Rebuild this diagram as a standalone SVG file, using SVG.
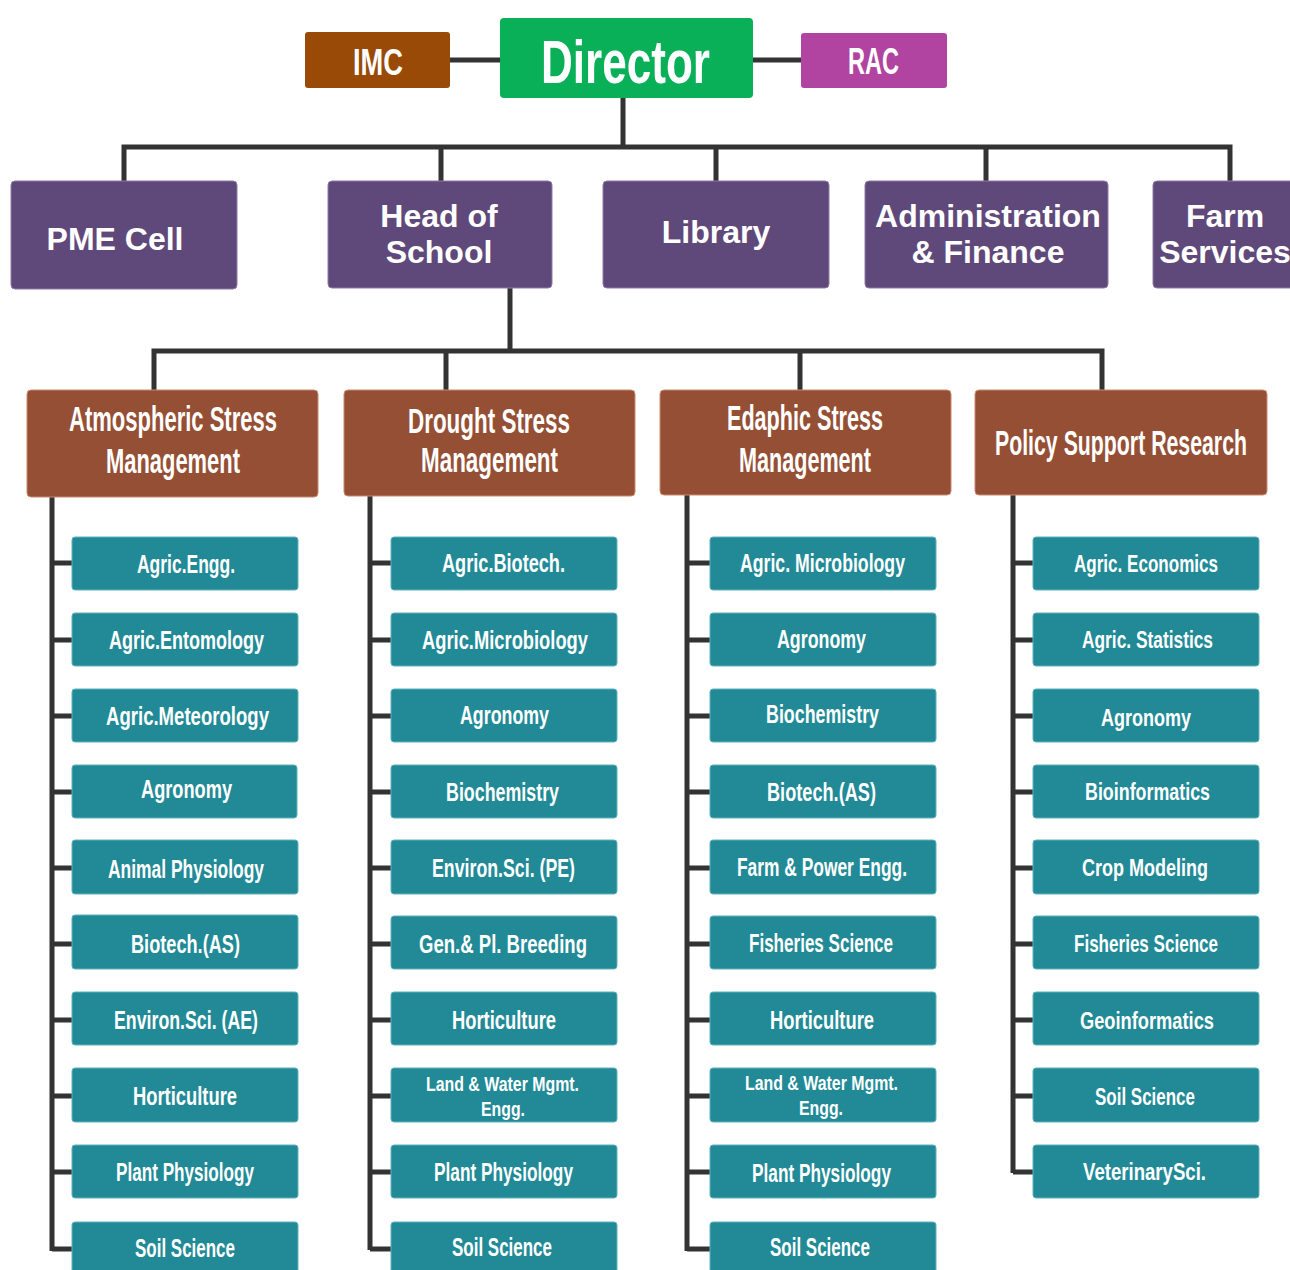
<svg xmlns="http://www.w3.org/2000/svg" width="1290" height="1270" viewBox="0 0 1290 1270">
<style>
text{font-family:"Liberation Sans",Arial,sans-serif;font-weight:bold;fill:#fff;text-anchor:middle}
.leaf rect{fill:#218A96;stroke:#5fb3bc;stroke-width:1}
.leaf text{font-size:26px}
.c4 text{font-size:24px}
.leaf text.sm{font-size:21px}
.dept rect{fill:#954F34;stroke:#c98a70;stroke-width:1}
.dept text{font-size:35px}
.unit rect{fill:#5F497A;stroke:#8f7aa8;stroke-width:1}
.unit text{font-size:32px}
.c{stroke:#333;stroke-width:5;fill:none}
</style>
<g id="connectors" class="c">
<path d="M450 60H500M753 60H801"/>
<path d="M623 98V147M124 181V147H1230V181M441 147V181M716 147V181M986 147V181"/>
<path d="M510 288V351M154 390V351H1102V390M446 351V390M800 351V390"/>
<path d="M52 497V1251M52 563H72M52 640H72M52 716H72M52 792H72M52 868H72M52 944H72M52 1020H72M52 1096H72M52 1172H72M52 1249H72"/>
<path d="M370 496V1250M370 563H391M370 640H391M370 716H391M370 792H391M370 868H391M370 944H391M370 1020H391M370 1096H391M370 1172H391M370 1249H391"/>
<path d="M687 495V1251M687 563H710M687 640H710M687 716H710M687 792H710M687 868H710M687 944H710M687 1020H710M687 1096H710M687 1172H710M687 1249H710"/>
<path d="M1013 495V1173M1013 563H1033M1013 640H1033M1013 716H1033M1013 792H1033M1013 868H1033M1013 944H1033M1013 1020H1033M1013 1096H1033M1013 1172H1033"/>
</g>
<g id="imc"><rect x="305" y="32" width="145" height="56" rx="3" fill="#994A07"/><text x="378" y="75" font-size="36" textLength="50" lengthAdjust="spacingAndGlyphs">IMC</text></g>
<g id="director"><rect x="500" y="18" width="253" height="80" rx="4" fill="#09B057"/><text x="625.5" y="83" font-size="61" textLength="169" lengthAdjust="spacingAndGlyphs">Director</text></g>
<g id="rac"><rect x="801" y="33" width="146" height="55" rx="3" fill="#B044A0"/><text x="873.5" y="74" font-size="36" textLength="51" lengthAdjust="spacingAndGlyphs">RAC</text></g>

<g id="pme" class="unit"><rect x="11" y="181" width="226" height="108" rx="4"/><text x="115" y="250">PME Cell</text></g>
<g id="head" class="unit"><rect x="328" y="181" width="224" height="107" rx="4"/><text x="439" y="227">Head of</text><text x="439" y="263">School</text></g>
<g id="library" class="unit"><rect x="603" y="181" width="226" height="107" rx="4"/><text x="716" y="243">Library</text></g>
<g id="admin" class="unit"><rect x="865" y="181" width="243" height="107" rx="4"/><text x="988" y="227">Administration</text><text x="988" y="263">&amp; Finance</text></g>
<g id="farm" class="unit"><rect x="1153" y="181" width="150" height="107" rx="4"/><text x="1225" y="227">Farm</text><text x="1225" y="263">Services</text></g>

<g id="atmo" class="dept"><rect x="27" y="390" width="291" height="107" rx="4"/><text x="173" y="431" textLength="208" lengthAdjust="spacingAndGlyphs">Atmospheric Stress</text><text x="173" y="473" textLength="134" lengthAdjust="spacingAndGlyphs">Management</text></g>
<g id="drought" class="dept"><rect x="344" y="390" width="291" height="106" rx="4"/><text x="489" y="433" textLength="162" lengthAdjust="spacingAndGlyphs">Drought Stress</text><text x="489.5" y="472" textLength="137" lengthAdjust="spacingAndGlyphs">Management</text></g>
<g id="edaphic" class="dept"><rect x="660" y="390" width="291" height="105" rx="4"/><text x="805" y="430" textLength="156" lengthAdjust="spacingAndGlyphs">Edaphic Stress</text><text x="805" y="472" textLength="132" lengthAdjust="spacingAndGlyphs">Management</text></g>
<g id="policy" class="dept"><rect x="975" y="390" width="292" height="105" rx="4"/><text x="1121" y="455" font-size="30" textLength="252" lengthAdjust="spacingAndGlyphs">Policy Support Research</text></g>

<g id="c1">
<g id="a1" class="leaf"><rect x="72" y="537" width="226" height="53" rx="3"/><text x="186" y="573" textLength="98" lengthAdjust="spacingAndGlyphs">Agric.Engg.</text></g>
<g id="a2" class="leaf"><rect x="72" y="613" width="226" height="53" rx="3"/><text x="186.5" y="649" textLength="155" lengthAdjust="spacingAndGlyphs">Agric.Entomology</text></g>
<g id="a3" class="leaf"><rect x="72" y="689" width="226" height="53" rx="3"/><text x="187.5" y="725" textLength="163" lengthAdjust="spacingAndGlyphs">Agric.Meteorology</text></g>
<g id="a4" class="leaf"><rect x="72" y="765" width="225" height="53" rx="3"/><text x="186.5" y="798" textLength="91" lengthAdjust="spacingAndGlyphs">Agronomy</text></g>
<g id="a5" class="leaf"><rect x="72" y="840" width="226" height="54" rx="3"/><text x="186" y="878" textLength="156" lengthAdjust="spacingAndGlyphs">Animal Physiology</text></g>
<g id="a6" class="leaf"><rect x="72" y="915" width="226" height="54" rx="3"/><text x="185.5" y="953" textLength="109" lengthAdjust="spacingAndGlyphs">Biotech.(AS)</text></g>
<g id="a7" class="leaf"><rect x="72" y="992" width="226" height="53" rx="3"/><text x="186" y="1029" textLength="144" lengthAdjust="spacingAndGlyphs">Environ.Sci. (AE)</text></g>
<g id="a8" class="leaf"><rect x="72" y="1068" width="226" height="54" rx="3"/><text x="185" y="1105" textLength="104" lengthAdjust="spacingAndGlyphs">Horticulture</text></g>
<g id="a9" class="leaf"><rect x="72" y="1145" width="226" height="53" rx="3"/><text x="185" y="1181" font-size="28" textLength="138" lengthAdjust="spacingAndGlyphs">Plant Physiology</text></g>
<g id="a10" class="leaf"><rect x="72" y="1222" width="226" height="53" rx="3"/><text x="185" y="1257" textLength="100" lengthAdjust="spacingAndGlyphs">Soil Science</text></g>
</g>
<g id="c2">
<g id="b1" class="leaf"><rect x="391" y="537" width="226" height="53" rx="3"/><text x="503.5" y="572" font-size="28" textLength="123" lengthAdjust="spacingAndGlyphs">Agric.Biotech.</text></g>
<g id="b2" class="leaf"><rect x="391" y="613" width="226" height="53" rx="3"/><text x="505" y="649" font-size="27" textLength="166" lengthAdjust="spacingAndGlyphs">Agric.Microbiology</text></g>
<g id="b3" class="leaf"><rect x="391" y="689" width="226" height="53" rx="3"/><text x="504.5" y="724" textLength="89" lengthAdjust="spacingAndGlyphs">Agronomy</text></g>
<g id="b4" class="leaf"><rect x="391" y="765" width="226" height="53" rx="3"/><text x="502.5" y="801" font-size="28" textLength="113" lengthAdjust="spacingAndGlyphs">Biochemistry</text></g>
<g id="b5" class="leaf"><rect x="391" y="840" width="226" height="54" rx="3"/><text x="503.5" y="877" textLength="143" lengthAdjust="spacingAndGlyphs">Environ.Sci. (PE)</text></g>
<g id="b6" class="leaf"><rect x="391" y="916" width="226" height="53" rx="3"/><text x="503" y="953" textLength="168" lengthAdjust="spacingAndGlyphs">Gen.&amp; Pl. Breeding</text></g>
<g id="b7" class="leaf"><rect x="391" y="992" width="226" height="53" rx="3"/><text x="504" y="1029" textLength="104" lengthAdjust="spacingAndGlyphs">Horticulture</text></g>
<g id="b8" class="leaf"><rect x="391" y="1068" width="226" height="54" rx="3"/><text class="sm" x="502.5" y="1091" textLength="153" lengthAdjust="spacingAndGlyphs">Land &amp; Water Mgmt.</text><text class="sm" x="503" y="1116" textLength="44" lengthAdjust="spacingAndGlyphs">Engg.</text></g>
<g id="b9" class="leaf"><rect x="391" y="1145" width="226" height="53" rx="3"/><text x="503.5" y="1181" textLength="139" lengthAdjust="spacingAndGlyphs">Plant Physiology</text></g>
<g id="b10" class="leaf"><rect x="391" y="1222" width="226" height="53" rx="3"/><text x="502" y="1256" textLength="100" lengthAdjust="spacingAndGlyphs">Soil Science</text></g>
</g>
<g id="c3">
<g id="d1" class="leaf"><rect x="710" y="537" width="226" height="53" rx="3"/><text x="822.5" y="572" textLength="165" lengthAdjust="spacingAndGlyphs">Agric. Microbiology</text></g>
<g id="d2" class="leaf"><rect x="710" y="613" width="226" height="53" rx="3"/><text x="821.5" y="648" textLength="89" lengthAdjust="spacingAndGlyphs">Agronomy</text></g>
<g id="d3" class="leaf"><rect x="710" y="689" width="226" height="53" rx="3"/><text x="822.5" y="723" font-size="28" textLength="113" lengthAdjust="spacingAndGlyphs">Biochemistry</text></g>
<g id="d4" class="leaf"><rect x="710" y="765" width="226" height="53" rx="3"/><text x="821.5" y="801" textLength="109" lengthAdjust="spacingAndGlyphs">Biotech.(AS)</text></g>
<g id="d5" class="leaf"><rect x="710" y="840" width="226" height="54" rx="3"/><text x="822" y="876" textLength="170" lengthAdjust="spacingAndGlyphs">Farm &amp; Power Engg.</text></g>
<g id="d6" class="leaf"><rect x="710" y="916" width="226" height="53" rx="3"/><text x="821" y="952" textLength="144" lengthAdjust="spacingAndGlyphs">Fisheries Science</text></g>
<g id="d7" class="leaf"><rect x="710" y="992" width="226" height="53" rx="3"/><text x="822" y="1029" textLength="104" lengthAdjust="spacingAndGlyphs">Horticulture</text></g>
<g id="d8" class="leaf"><rect x="710" y="1068" width="226" height="54" rx="3"/><text class="sm" x="821.5" y="1090" textLength="153" lengthAdjust="spacingAndGlyphs">Land &amp; Water Mgmt.</text><text class="sm" x="821" y="1115" textLength="44" lengthAdjust="spacingAndGlyphs">Engg.</text></g>
<g id="d9" class="leaf"><rect x="710" y="1145" width="226" height="53" rx="3"/><text x="821.5" y="1182" textLength="139" lengthAdjust="spacingAndGlyphs">Plant Physiology</text></g>
<g id="d10" class="leaf"><rect x="710" y="1222" width="226" height="53" rx="3"/><text x="820" y="1256" textLength="100" lengthAdjust="spacingAndGlyphs">Soil Science</text></g>
</g>
<g id="c4" class="c4">
<g id="e1" class="leaf"><rect x="1033" y="537" width="226" height="53" rx="3"/><text x="1146" y="572" textLength="144" lengthAdjust="spacingAndGlyphs">Agric. Economics</text></g>
<g id="e2" class="leaf"><rect x="1033" y="613" width="226" height="53" rx="3"/><text x="1147.5" y="648" textLength="131" lengthAdjust="spacingAndGlyphs">Agric. Statistics</text></g>
<g id="e3" class="leaf"><rect x="1033" y="689" width="226" height="53" rx="3"/><text x="1146" y="726" textLength="90" lengthAdjust="spacingAndGlyphs">Agronomy</text></g>
<g id="e4" class="leaf"><rect x="1033" y="765" width="226" height="53" rx="3"/><text x="1147.5" y="800" textLength="125" lengthAdjust="spacingAndGlyphs">Bioinformatics</text></g>
<g id="e5" class="leaf"><rect x="1033" y="840" width="226" height="54" rx="3"/><text x="1145" y="876" textLength="126" lengthAdjust="spacingAndGlyphs">Crop Modeling</text></g>
<g id="e6" class="leaf"><rect x="1033" y="916" width="226" height="53" rx="3"/><text x="1146" y="952" textLength="144" lengthAdjust="spacingAndGlyphs">Fisheries Science</text></g>
<g id="e7" class="leaf"><rect x="1033" y="992" width="226" height="53" rx="3"/><text x="1147" y="1029" textLength="134" lengthAdjust="spacingAndGlyphs">Geoinformatics</text></g>
<g id="e8" class="leaf"><rect x="1033" y="1068" width="226" height="54" rx="3"/><text x="1145" y="1105" textLength="100" lengthAdjust="spacingAndGlyphs">Soil Science</text></g>
<g id="e9" class="leaf"><rect x="1033" y="1145" width="226" height="53" rx="3"/><text x="1144.5" y="1180" textLength="123" lengthAdjust="spacingAndGlyphs">VeterinarySci.</text></g>
</g>
</svg>
